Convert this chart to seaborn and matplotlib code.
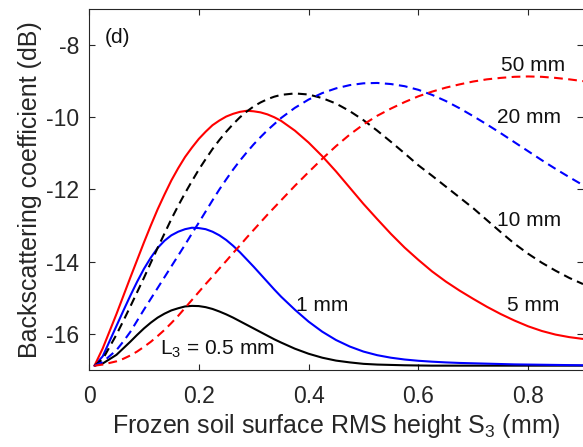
import matplotlib
matplotlib.use("Agg")
import matplotlib.pyplot as plt
import seaborn as sns
import pandas as pd

# RMS height grid (mm) (finer where the curves bend most)
s3 = [0.01, 0.025, 0.05, 0.0625, 0.075, 0.0875, 0.1, 0.1125, 0.125, 0.1375, 0.15, 0.1625,
      0.175, 0.1875, 0.2, 0.2125, 0.225, 0.2375, 0.25, 0.2625, 0.275, 0.2875, 0.3, 0.3125,
      0.325, 0.3375, 0.35, 0.375, 0.4, 0.425, 0.45, 0.475, 0.5, 0.525, 0.55, 0.575,
      0.6, 0.625, 0.65, 0.675, 0.7, 0.725, 0.75, 0.775, 0.8, 0.825, 0.85, 0.875, 0.9]

# backscattering (dB) for each correlation length L3
l_05mm = [-16.88, -16.82, -16.58, -16.40, -16.22, -16.03, -15.85, -15.69, -15.55, -15.44,
          -15.35, -15.29, -15.24, -15.225, -15.23, -15.26, -15.31, -15.38, -15.46, -15.55,
          -15.65, -15.75, -15.85, -15.95, -16.05, -16.15, -16.24,
          -16.41, -16.55, -16.66, -16.74, -16.79, -16.83, -16.85, -16.86, -16.87, -16.875,
          -16.88, -16.88, -16.88, -16.88, -16.88, -16.88, -16.88, -16.88, -16.88, -16.88,
          -16.88, -16.88]
l_1mm = [-16.88, -16.62, -15.78, -15.36, -14.95, -14.56, -14.20, -13.89, -13.62, -13.42,
         -13.27, -13.17, -13.10, -13.06, -13.07, -13.10, -13.17, -13.27, -13.40, -13.56,
         -13.74, -13.94, -14.14, -14.35, -14.56, -14.77, -14.97,
         -15.33, -15.66, -15.94, -16.17, -16.35, -16.49, -16.59, -16.66, -16.71, -16.745,
         -16.77, -16.79, -16.805, -16.815, -16.825, -16.835, -16.845, -16.85, -16.855, -16.86,
         -16.865, -16.87]
l_5mm = [-16.88, -16.40, -15.45, -14.95, -14.45, -13.96, -13.47, -13.00, -12.55, -12.14,
         -11.75, -11.41, -11.10, -10.84, -10.60, -10.40, -10.22, -10.09, -9.98, -9.905,
         -9.85, -9.82, -9.835, -9.865, -9.92, -10.00, -10.10,
         -10.37, -10.70, -11.08, -11.50, -11.95, -12.40, -12.82, -13.23, -13.61, -13.95,
         -14.27, -14.55, -14.80, -15.03, -15.25, -15.45, -15.63, -15.79, -15.92, -16.02,
         -16.09, -16.14]
l_10mm = [-16.88, -16.70, -16.02, -15.64, -15.25, -14.85, -14.45, -14.03, -13.62, -13.22,
          -12.82, -12.45, -12.10, -11.77, -11.45, -11.16, -10.88, -10.63, -10.40, -10.19,
          -10.00, -9.84, -9.70, -9.59, -9.50, -9.43, -9.38,
          -9.34, -9.37, -9.47, -9.62, -9.83, -10.08, -10.37, -10.68, -11.00, -11.33,
          -11.62, -11.92, -12.22, -12.52, -12.85, -13.18, -13.50, -13.78, -14.03, -14.25,
          -14.45, -14.62]
l_20mm = [-16.88, -16.78, -16.45, -16.21, -15.95, -15.64, -15.33, -15.03, -14.73, -14.43,
          -14.13, -13.83, -13.53, -13.22, -12.92, -12.61, -12.30, -12.00, -11.72, -11.45,
          -11.20, -10.97, -10.75, -10.55, -10.36, -10.19, -10.02,
          -9.74, -9.51, -9.33, -9.20, -9.11, -9.06, -9.05, -9.08, -9.14, -9.24,
          -9.38, -9.55, -9.75, -9.97, -10.20, -10.44, -10.69, -10.94, -11.19, -11.43,
          -11.66, -11.88]
l_50mm = [-16.88, -16.85, -16.76, -16.69, -16.60, -16.49, -16.36, -16.22, -16.06, -15.89,
          -15.70, -15.50, -15.28, -15.06, -14.84, -14.62, -14.41, -14.19, -13.98, -13.76,
          -13.55, -13.33, -13.12, -12.91, -12.70, -12.50, -12.30,
          -11.90, -11.52, -11.15, -10.80, -10.48, -10.20, -9.96, -9.76, -9.58, -9.42,
          -9.29, -9.18, -9.09, -9.01, -8.95, -8.91, -8.88, -8.87, -8.88, -8.91,
          -8.95, -9.00]

series = [
    (l_05mm, 'black', '-'),
    (l_1mm, 'blue', '-'),
    (l_5mm, 'red', '-'),
    (l_10mm, 'black', '--'),
    (l_20mm, 'blue', '--'),
    (l_50mm, 'red', '--'),
]

sns.set_style('ticks')
plt.rcParams['font.family'] = ['Liberation Sans', 'DejaVu Sans']
plt.rcParams['axes.unicode_minus'] = False
plt.rcParams['mathtext.fontset'] = 'custom'
plt.rcParams['mathtext.rm'] = 'Liberation Sans'

fig = plt.figure(figsize=(5.83, 4.47), dpi=100)
ax = fig.add_axes([0.1527, 0.1723, 0.8473, 0.8077])

for vals, col, ls in series:
    df = pd.DataFrame({'s3': s3, 'sigma': vals})
    sns.lineplot(data=df, x='s3', y='sigma', color=col, linestyle=ls, lw=1.5,
                 sort=False, ax=ax)
for line in ax.lines:
    if line.get_linestyle() == '--':
        line.set_dashes((4.2, 2.6))

ax.set_xlim(0, 0.9)
ax.set_ylim(-17, -7)
ax.set_xticks([0, 0.2, 0.4, 0.6, 0.8])
ax.set_xticklabels(['0', '0.2', '0.4', '0.6', '0.8'])
ax.set_yticks([-16, -14, -12, -10, -8])
ax.tick_params(direction='in', length=4, width=0.8, colors='#262626',
               labelsize=16.5, top=True, right=True)
ax.tick_params(axis='x', pad=11)
ax.tick_params(axis='y', pad=7)
for side in ['left', 'bottom', 'top']:
    ax.spines[side].set_color('#262626')
    ax.spines[side].set_linewidth(0.8)
ax.spines['right'].set_visible(False)

ax.set_xlabel('Frozen soil surface RMS height S$_3$ (mm)', fontsize=18, color='#262626', labelpad=3)
ax.set_ylabel('Backscattering coefficient (dB)', fontsize=18, color='#262626', labelpad=3)

txt = dict(fontsize=15, color='#111111', va='center', ha='left')
ax.text(0.029, -7.8, '(d)', **txt)
ax.text(0.751, -8.58, '50 mm', **txt)
ax.text(0.744, -10.0, '20 mm', **txt)
ax.text(0.744, -12.86, '10 mm', **txt)
ax.text(0.762, -15.22, '5 mm', **txt)
ax.text(0.378, -15.22, '1 mm', **txt)
ax.text(0.129, -16.42, 'L$_3$ = 0.5 mm', **txt)

fig.savefig('out.png', dpi=100)
